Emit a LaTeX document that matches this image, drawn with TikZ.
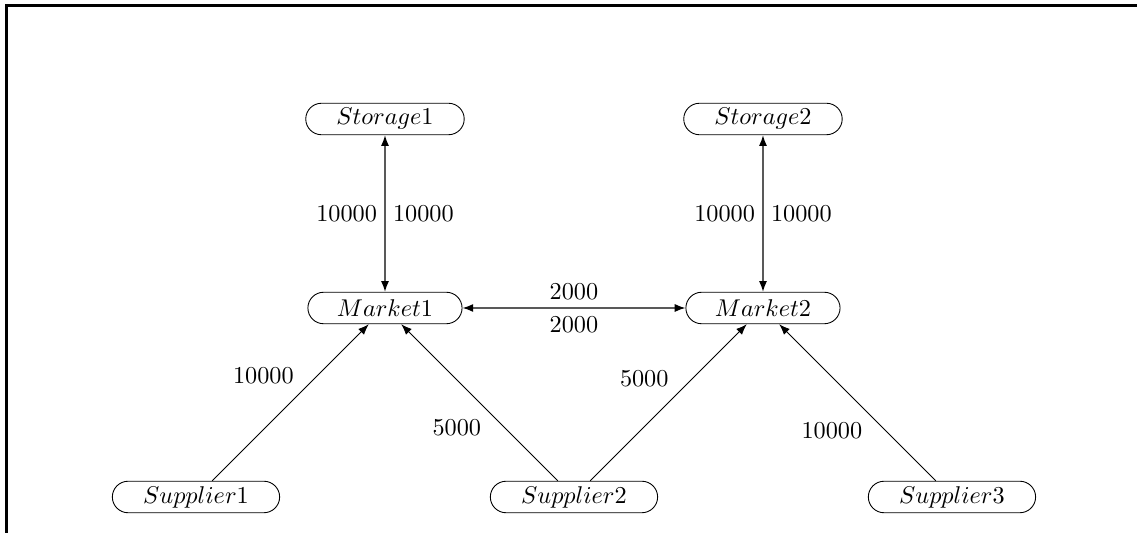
\documentclass[tikz,border=0pt]{standalone}
\usepackage{amsmath}
\usepackage{tikz}
\usetikzlibrary{shapes.misc, arrows.meta, positioning}
\tikzset{
    place/.style={rounded rectangle, draw, inner xsep=12pt, inner ysep=1pt, minimum height=0.5cm},
    flow/.style={-{Latex[length=1.7mm]}},
    twoway/.style={{Latex[length=1.7mm]}-{Latex[length=1.7mm]}, semithick},
}
\begin{document}
\begin{tikzpicture}[font=\fontsize{10.95}{13.6}\selectfont]
    \useasboundingbox (-3.111,-0.571) rectangle (14.937,7.889);
    % frame, cut at right and bottom
    \coordinate (frametop) at (14.937,7.802);
    \coordinate (framecorner) at (-3.008,7.802);
    \coordinate (framebottom) at (-3.008,-0.571);
    \draw[line width=1.4pt] (frametop) -- (framecorner) -- (framebottom);
    % nodes
    \node[place] (sup1) at (0,0)  {$Supplier1$};
    \node[place] (sup2) at (6,0)  {$Supplier2$};
    \node[place] (sup3) at (12,0) {$Supplier3$};
    \node[place] (mkt1) at (3,3)  {$Market1$};
    \node[place] (mkt2) at (9,3)  {$Market2$};
    \node[place] (sto1) at (3,6)  {$Storage1$};
    \node[place] (sto2) at (9,6)  {$Storage2$};
    % flows
    \draw[twoway] (sto1) -- node[left]{10000} node[right]{10000} (mkt1);
    \draw[twoway] (sto2) -- node[left]{10000} node[right]{10000} (mkt2);
    \draw[twoway] (mkt1) -- node[above]{2000} node[below]{2000} (mkt2);
    \draw[flow] (sup1) -- node[pos=0.57, above left]{10000} (mkt1);
    \draw[flow] (sup2) -- node[pos=0.44, below left]{5000} (mkt1);
    \draw[flow] (sup2) -- node[pos=0.55, above left]{5000} (mkt2);
    \draw[flow] (sup3) -- node[pos=0.42, below left]{10000} (mkt2);
\end{tikzpicture}
\end{document}
